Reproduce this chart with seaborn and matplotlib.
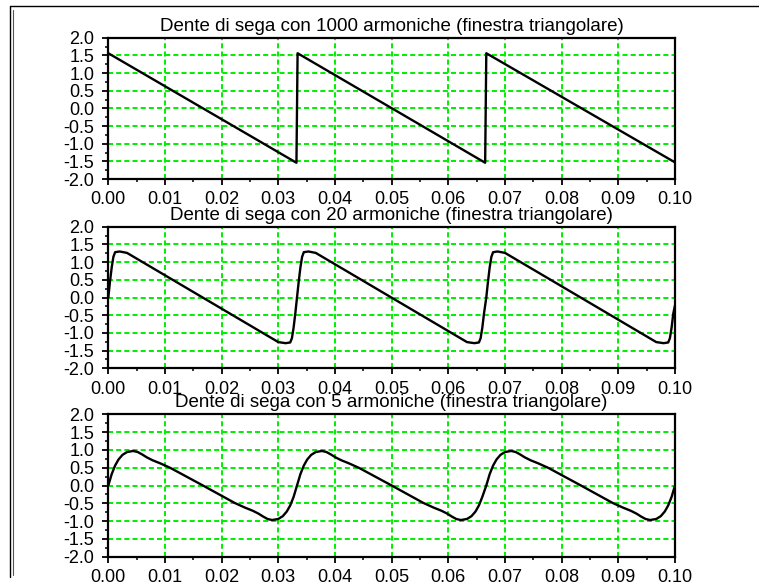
import matplotlib
matplotlib.use("Agg")
import matplotlib.pyplot as plt
from matplotlib.lines import Line2D
from matplotlib.ticker import MultipleLocator, FormatStrFormatter
import seaborn as sns
import pandas as pd

# ---------------- data ----------------
titles = [
    "Dente di sega con 1000 armoniche (finestra triangolare)",
    "Dente di sega con 20 armoniche (finestra triangolare)",
    "Dente di sega con 5 armoniche (finestra triangolare)",
]

t_1000 = [0.0000, 0.0332, 0.0334, 0.0665, 0.0667, 0.1000]
v_1000 = [1.56, -1.54, 1.56, -1.54, 1.56, -1.53]

t_20 = [0.0000, 0.0003, 0.0006, 0.0009, 0.0012, 0.0020, 0.0033,
        0.0300, 0.0313, 0.0321, 0.0324, 0.0327, 0.0330,
        0.0333, 0.0336, 0.0339, 0.0342, 0.0345, 0.0353, 0.0366,
        0.0633, 0.0646, 0.0654, 0.0657, 0.0660, 0.0663,
        0.0667, 0.0670, 0.0673, 0.0676, 0.0679, 0.0687, 0.0700,
        0.0967, 0.0980, 0.0988, 0.0991, 0.0994, 0.0997, 0.1000]
v_20 = [0.00, 0.45, 0.85, 1.15, 1.28, 1.30, 1.26,
        -1.26, -1.29, -1.27, -1.15, -0.85, -0.45,
        0.00, 0.45, 0.85, 1.15, 1.28, 1.30, 1.26,
        -1.26, -1.29, -1.27, -1.15, -0.85, -0.45,
        0.00, 0.45, 0.85, 1.15, 1.28, 1.30, 1.26,
        -1.26, -1.29, -1.27, -1.15, -0.85, -0.45, -0.22]

t_5 = [0.0000, 0.0006, 0.0012, 0.0018, 0.0025, 0.0033, 0.0044, 0.0052,
       0.0060, 0.0068, 0.0078, 0.0092, 0.0110, 0.0167, 0.0223, 0.0241,
       0.0255, 0.0265, 0.0273, 0.0281, 0.0289, 0.0300, 0.0308, 0.0315,
       0.0321, 0.0327,
       0.0333, 0.0339, 0.0345, 0.0351, 0.0358, 0.0366, 0.0377, 0.0385,
       0.0393, 0.0401, 0.0411, 0.0425, 0.0443, 0.0500, 0.0556, 0.0574,
       0.0588, 0.0598, 0.0606, 0.0614, 0.0622, 0.0633, 0.0641, 0.0648,
       0.0654, 0.0660,
       0.0667, 0.0673, 0.0679, 0.0685, 0.0692, 0.0700, 0.0711, 0.0719,
       0.0727, 0.0735, 0.0745, 0.0759, 0.0777, 0.0834, 0.0890, 0.0908,
       0.0922, 0.0932, 0.0940, 0.0948, 0.0956, 0.0967, 0.0975, 0.0982,
       0.0988, 0.0994, 0.1000]
v_5 = [0.00, 0.32, 0.56, 0.73, 0.86, 0.94, 0.97, 0.94,
       0.87, 0.79, 0.71, 0.62, 0.49, 0.00, -0.49, -0.62,
       -0.71, -0.79, -0.87, -0.94, -0.97, -0.94, -0.86, -0.73,
       -0.56, -0.32,
       0.00, 0.32, 0.56, 0.73, 0.86, 0.94, 0.97, 0.94,
       0.87, 0.79, 0.71, 0.62, 0.49, 0.00, -0.49, -0.62,
       -0.71, -0.79, -0.87, -0.94, -0.97, -0.94, -0.86, -0.73,
       -0.56, -0.32,
       0.00, 0.32, 0.56, 0.73, 0.86, 0.94, 0.97, 0.94,
       0.87, 0.79, 0.71, 0.62, 0.49, 0.00, -0.49, -0.62,
       -0.71, -0.79, -0.87, -0.94, -0.97, -0.94, -0.86, -0.73,
       -0.56, -0.32, 0.00]

series = [(t_1000, v_1000), (t_20, v_20), (t_5, v_5)]

# ---------------- style ----------------
sns.set_theme(style="ticks")
plt.rcParams["font.family"] = ["Liberation Sans", "DejaVu Sans"]

fig = plt.figure(figsize=(7.59, 5.83), dpi=100)
fig.patch.set_facecolor("white")

W, H = 759.0, 583.0
boxes = [(108.3, 37.7, 675.0, 179.0),
         (108.3, 226.7, 675.0, 368.3),
         (108.3, 414.3, 675.0, 556.7)]

for (x0, y0, x1, y1), (tt, vv), title in zip(boxes, series, titles):
    ax = fig.add_axes([x0 / W, 1 - y1 / H, (x1 - x0) / W, (y1 - y0) / H])
    df = pd.DataFrame({"t": tt, "v": vv})
    ax.set_axisbelow(True)
    sns.lineplot(data=df, x="t", y="v", ax=ax, color="black", linewidth=1.7,
                 estimator=None, sort=False, zorder=3)
    ax.set_xlim(0.0, 0.1)
    ax.set_ylim(-2.0, 2.0)
    ax.xaxis.set_major_locator(MultipleLocator(0.01))
    ax.xaxis.set_minor_locator(MultipleLocator(0.005))
    ax.yaxis.set_major_locator(MultipleLocator(0.5))
    ax.yaxis.set_minor_locator(MultipleLocator(0.25))
    ax.xaxis.set_major_formatter(FormatStrFormatter("%.2f"))
    ax.yaxis.set_major_formatter(FormatStrFormatter("%.1f"))
    ax.grid(True, which="major", color="#00ee00", linewidth=1.4,
            linestyle=(0, (2.6, 1.6)))
    ax.tick_params(which="major", direction="out", length=4, width=1.3,
                   labelsize=13, color="black", labelcolor="black")
    ax.tick_params(which="minor", direction="out", length=2.5, width=1.1,
                   color="black")
    ax.tick_params(axis="x", which="major", pad=5)
    ax.tick_params(axis="y", which="major", pad=6)
    for s in ax.spines.values():
        s.set_color("black")
        s.set_linewidth(1.6)
    ax.set_xlabel("")
    ax.set_ylabel("")
    ax.set_title(title, fontsize=13.5, pad=5, color="black")
    ax.set_facecolor("white")

# outer window frame lines
def px_line(xs, ys, color="black", lw=1.0):
    fig.add_artist(Line2D([x / W for x in xs], [1 - y / H for y in ys],
                          transform=fig.transFigure, color=color, linewidth=lw))

px_line([9.5, 759], [6, 6])
px_line([9.5, 9.5], [6, 577])
px_line([12.5, 12.5], [10, 575], color="#555555", lw=0.8)

fig.savefig("out.png", dpi=100, facecolor="white")
